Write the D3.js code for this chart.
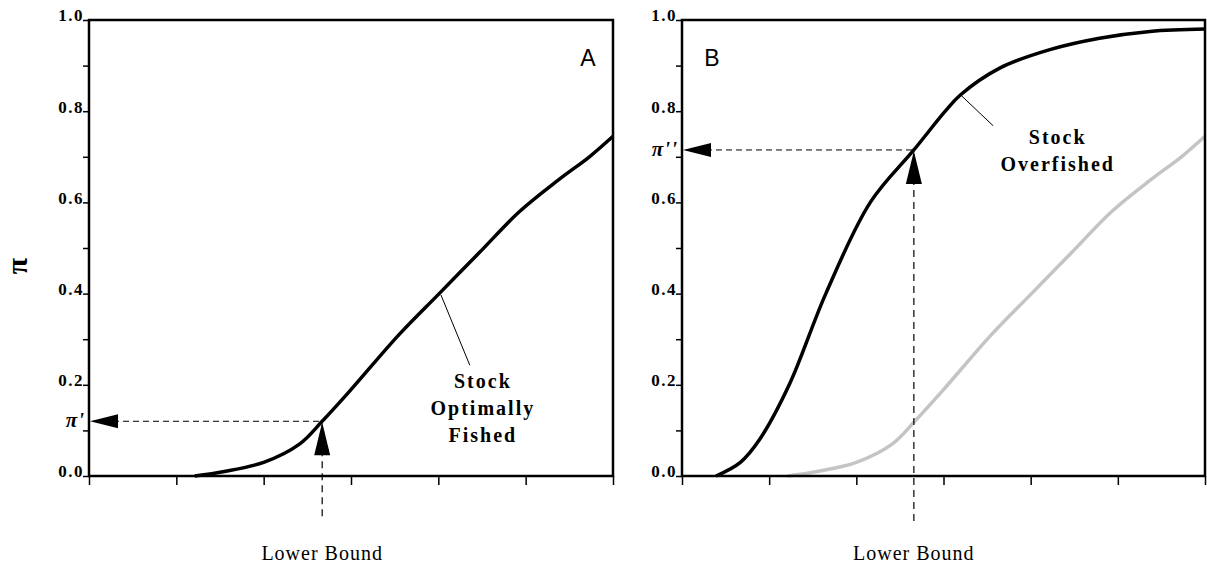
<!DOCTYPE html>
<html>
<head>
<meta charset="utf-8">
<script src="https://cdn.jsdelivr.net/npm/d3@7"></script>
<style>
  body { margin: 0; background: #fff; }
  svg { display: block; }
</style>
</head>
<body>
<svg id="chart" width="1207" height="574"></svg>
<script>
// ---- Data ----
const xTicks = [0, 1, 2, 3, 4, 5, 6];
const yTicks = [0, 0.1, 0.2, 0.3, 0.4, 0.5, 0.6, 0.7, 0.8, 0.9, 1.0];
const yTickLabels = ["0.0", "", "0.2", "", "0.4", "", "0.6", "", "0.8", "", "1.0"];

// "Stock Optimally Fished" curve (panel A black, panel B grey)
const optimalX = [1.21, 1.55, 2.0, 2.41, 2.67, 2.98, 3.55, 4.01, 4.47, 4.93, 5.38, 5.73, 6.0];
const optimalY = [0.0, 0.01, 0.03, 0.07, 0.12, 0.185, 0.31, 0.40, 0.49, 0.58, 0.65, 0.70, 0.745];

// "Stock Overfished" curve (panel B black)
const overX = [0.39, 0.67, 0.89, 1.23, 1.65, 2.16, 2.66, 3.02, 3.19, 3.65, 4.22, 4.79, 5.37, 6.0];
const overY = [0.0, 0.03, 0.08, 0.20, 0.40, 0.60, 0.715, 0.80, 0.835, 0.895, 0.935, 0.96, 0.975, 0.98];

// Lower bound marker and resulting probabilities
const lowerBoundA = 2.67, piA = 0.12, piALabel = "π'";
const lowerBoundB = 2.66, piB = 0.715, piBLabel = "π''";

const panelLetters = ["A", "B"];
const xAxisTitle = "Lower Bound";
const yAxisTitle = "π";
const labelA = ["Stock", "Optimally", "Fished"];
const labelB = ["Stock", "Overfished"];

// ---- Layout ----
const svg = d3.select("#chart");
const plotTop = 20, plotBottom = 476;
const panels = [
  { x0: 89, x1: 613 },
  { x0: 682, x1: 1205 }
];
const y = d3.scaleLinear().domain([0, 1]).range([plotBottom, plotTop]);
const serif = "'Liberation Serif', 'Times New Roman', serif";

function pts(xs, ys) { return xs.map((v, i) => [v, ys[i]]); }

function drawPanel(p, idx, curves, marker, letterPos, ann) {
  const x = d3.scaleLinear().domain([0, 6]).range([p.x0, p.x1]);
  const g = svg.append("g");

  // curves
  const line = d3.line().x(d => x(d[0])).y(d => y(d[1])).curve(d3.curveCatmullRom.alpha(0.5));
  curves.forEach(c => {
    g.append("path").attr("d", line(c.data)).attr("fill", "none")
      .attr("stroke", c.color).attr("stroke-width", 3.5).attr("stroke-linejoin", "round");
  });

  // frame
  g.append("rect").attr("x", p.x0).attr("y", plotTop).attr("width", p.x1 - p.x0).attr("height", plotBottom - plotTop)
    .attr("fill", "none").attr("stroke", "#000").attr("stroke-width", 2.5);

  // y axis
  const yAxis = d3.axisLeft(y).tickValues(yTicks).tickSize(6).tickFormat((d, i) => yTickLabels[i]);
  const ya = g.append("g").attr("transform", `translate(${p.x0},0)`).call(yAxis);
  ya.select(".domain").remove();
  ya.selectAll(".tick line").attr("stroke", "#000").attr("stroke-width", 1.5);
  ya.selectAll(".tick text").attr("font-family", serif).attr("font-weight", "bold")
    .attr("font-size", 17).attr("letter-spacing", 1.5).attr("fill", "#000")
    .attr("x", -5).attr("dy", "0.05em");

  // x axis
  const xAxis = d3.axisBottom(x).tickValues(xTicks).tickSize(9).tickFormat("");
  const xa = g.append("g").attr("transform", `translate(0,${plotBottom})`).call(xAxis);
  xa.select(".domain").remove();
  xa.selectAll(".tick line").attr("stroke", "#000").attr("stroke-width", 1.5);

  // dashed marker lines
  const mx = x(marker.lb), my = y(marker.pi);
  g.append("line").attr("x1", p.x0 + 4).attr("x2", mx).attr("y1", my).attr("y2", my)
    .attr("stroke", "#000").attr("stroke-width", 1).attr("stroke-dasharray", "6,4");
  g.append("line").attr("x1", mx).attr("x2", mx).attr("y1", my + 4).attr("y2", plotBottom + 45)
    .attr("stroke", "#000").attr("stroke-width", 1.2).attr("stroke-dasharray", "7,5");

  // arrowheads
  g.append("path").attr("d", `M${p.x0 + 1},${my} L${p.x0 + 29},${my - 7} L${p.x0 + 29},${my + 7} Z`)
    .attr("fill", "#000");
  g.append("path").attr("d", `M${mx},${my + 1} L${mx - 8},${my + 34} L${mx + 8},${my + 34} Z`)
    .attr("fill", "#000");

  // pi label
  g.append("text").attr("x", p.x0 - 4).attr("y", my + 6).attr("text-anchor", "end")
    .attr("font-family", serif).attr("font-style", "italic").attr("font-weight", "bold")
    .attr("font-size", 21).attr("letter-spacing", 1).text(marker.label);

  // panel letter
  g.append("text").attr("x", letterPos[0]).attr("y", letterPos[1]).attr("text-anchor", "middle")
    .attr("font-family", "'Liberation Sans', Arial, sans-serif").attr("font-size", 23)
    .text(panelLetters[idx]);

  // annotation leader
  g.append("line").attr("x1", x(ann.from[0])).attr("y1", y(ann.from[1]))
    .attr("x2", x(ann.to[0])).attr("y2", y(ann.to[1])).attr("stroke", "#000").attr("stroke-width", 1);
  ann.lines.forEach((t, i) => {
    g.append("text").attr("x", x(ann.textX)).attr("y", y(ann.textY) + i * 27)
      .attr("text-anchor", "middle").attr("font-family", serif).attr("font-weight", "bold")
      .attr("font-size", 20).attr("letter-spacing", 2).text(t);
  });

  // x axis title
  svg.append("text").attr("x", mx).attr("y", 560).attr("text-anchor", "middle")
    .attr("font-family", serif).attr("font-size", 20).attr("letter-spacing", 1).text(xAxisTitle);
}

drawPanel(panels[0], 0,
  [{ data: pts(optimalX, optimalY), color: "#000" }],
  { lb: lowerBoundA, pi: piA, label: piALabel },
  [588, 66],
  { from: [4.03, 0.397], to: [4.36, 0.243], textX: 4.51, textY: 0.193, lines: labelA });

drawPanel(panels[1], 1,
  [{ data: pts(optimalX, optimalY), color: "#c4c4c4" }, { data: pts(overX, overY), color: "#000" }],
  { lb: lowerBoundB, pi: piB, label: piBLabel },
  [712, 66],
  { from: [3.2, 0.835], to: [3.57, 0.768], textX: 4.31, textY: 0.727, lines: labelB });

// y axis title
svg.append("text").attr("transform", "translate(27,266) rotate(-90)").attr("text-anchor", "middle")
  .attr("font-family", serif).attr("font-weight", "bold").attr("font-size", 30)
  .text(yAxisTitle);
</script>
</body>
</html>
